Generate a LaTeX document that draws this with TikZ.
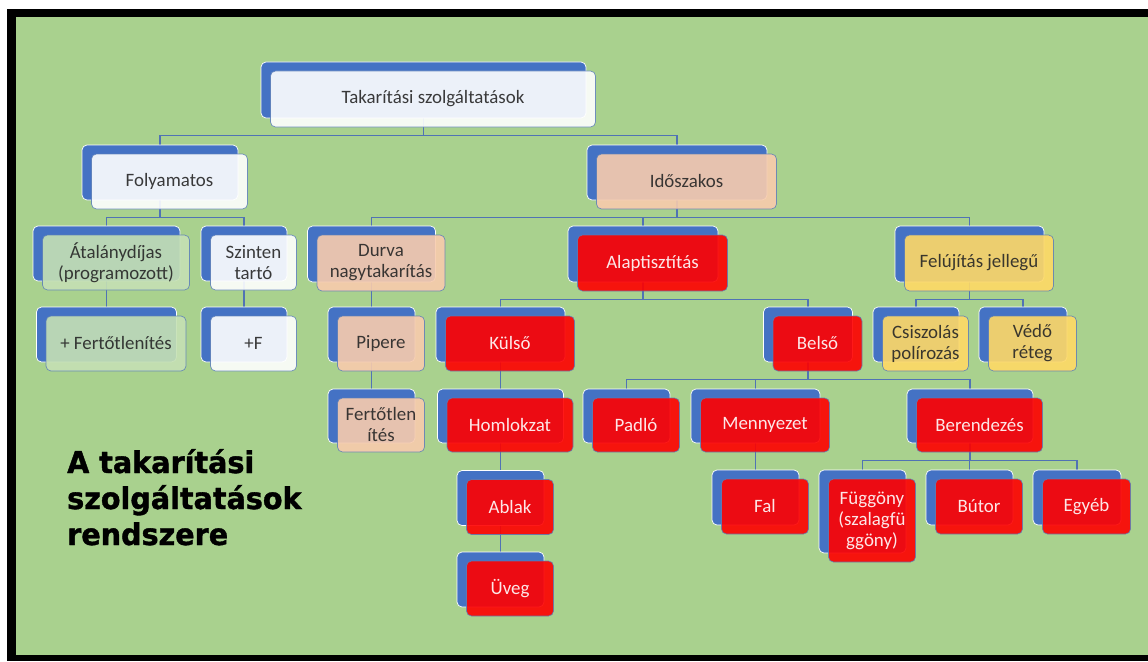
\documentclass[tikz,border=0pt]{standalone}
\usepackage{fontspec}
\setmainfont{Carlito}
\newfontfamily\titlefont{DejaVu Sans Condensed}[BoldFeatures={FakeBold=1.2}]

\definecolor{leaf}{RGB}{169,209,142}
\definecolor{cardblue}{RGB}{68,114,196}
\definecolor{edgeblue}{RGB}{91,126,184}
\definecolor{lineblue}{RGB}{80,115,180}
\definecolor{ink}{RGB}{38,38,38}
\definecolor{mint}{RGB}{197,224,180}
\definecolor{peach}{RGB}{248,203,173}
\definecolor{gold}{RGB}{255,217,102}
\definecolor{alarm}{RGB}{255,0,0}

\pgfdeclarelayer{ground}
\pgfdeclarelayer{lines}
\pgfsetlayers{ground,lines,main}

% #1 name, #2 #3 centre of the back plate, #4 width, #5 height,
% #6 front fill, #7 text colour, #8 text
\newcommand\card[8]{%
  \node[backbox, minimum width=#4pt, minimum height=#5pt] (#1) at (#2,#3) {};
  \node[frontbox, fill=#6, text=#7, minimum width=#4pt, minimum height=#5pt]
    (#1f) at ([xshift=9.5pt,yshift=-9pt]#1.center) {#8};
}
% elbow connector from a parent plate down to a child plate
\newcommand\link[2]{%
  \begin{pgfonlayer}{lines}
    \draw[conn] (#1.south) -- ++(0,17.5) -| (#2.north);
  \end{pgfonlayer}
}

\begin{document}
\begin{tikzpicture}[x=1pt,y=-1pt,
  backbox/.style={draw=white, line width=0.7pt, fill=cardblue,
    rounded corners=5pt, inner sep=0pt},
  frontbox/.style={draw=edgeblue, line width=0.7pt, fill opacity=0.9,
    draw opacity=0.85, rounded corners=5pt, inner sep=0pt, align=center,
    font=\fontsize{18.9}{21}\selectfont},
  conn/.style={draw=lineblue, line width=1.2pt},
]
\useasboundingbox (0,0) rectangle (1148,661);
\begin{pgfonlayer}{ground}
  \fill[white] (0,0) rectangle (1148,661);
  \fill[black] (7,9) rectangle (1148,661);
  \fill[leaf] (16,17) rectangle (1148,655);
\end{pgfonlayer}

% level 0
\card{root}{423.5}{90}{325}{56}{white}{ink}{Takarítási szolgáltatások}
% level 1
\card{fol}{160}{172.5}{156}{55}{white}{ink}{Folyamatos}
\card{ido}{677}{172.5}{180}{55}{peach}{ink}{Időszakos}
% level 2
\card{ata}{106.5}{253.5}{147}{55}{mint}{ink}{Átalánydíjas\\(programozott)}
\card{szi}{244}{253.5}{86}{55}{white}{ink}{Szinten\\tartó}
\card{durva}{371.5}{254}{128}{56}{peach}{ink}{Durva\\nagytakarítás}
\card{alap}{643}{254}{150}{56}{alarm}{white}{Alaptisztítás}
\card{feluj}{969.5}{254}{149}{56}{gold}{ink}{Felújítás jellegű}
% level 3
\card{fert}{106.5}{334.5}{140}{55}{mint}{ink}{+ Fertőtlenítés}
\card{plusf}{244}{334.5}{86}{55}{white}{ink}{+F}
\card{pip}{371.5}{334.5}{87}{55}{peach}{ink}{Pipere}
\card{kulso}{500.5}{334.5}{129}{55}{alarm}{white}{Külső}
\card{belso}{808}{334.5}{89}{55}{alarm}{white}{Belső}
\card{csisz}{916}{334.5}{86}{55}{gold}{ink}{Csiszolás\\polírozás}
\card{vedo}{1023}{334.5}{88}{55}{gold}{ink}{Védő\\réteg}
% level 4
\card{fertl}{371.5}{416}{87}{54}{peach}{ink}{Fertőtlen\\ítés}
\card{homl}{500.5}{416}{126}{54}{alarm}{white}{Homlokzat}
\card{padlo}{626.5}{416}{87}{54}{alarm}{white}{Padló}
\card{menny}{755.5}{416}{129}{54}{alarm}{white}{Mennyezet}
\card{beren}{970}{416}{126}{54}{alarm}{white}{Berendezés}
% level 5
\card{ablak}{500.5}{498}{87}{55}{alarm}{white}{Ablak}
\card{fal}{755.5}{497.5}{87}{55}{alarm}{white}{Fal}
\card{fugg}{862.5}{511.5}{87}{83}{alarm}{white}{Függöny\\(szalagfü\\ggöny)}
\card{butor}{969.5}{497.5}{87}{55}{alarm}{white}{Bútor}
\card{egyeb}{1077}{497.5}{88}{55}{alarm}{white}{Egyéb}
% level 6
\card{uveg}{500.5}{579.5}{87}{55}{alarm}{white}{Üveg}

\link{root}{fol}
\link{root}{ido}
\link{fol}{ata}
\link{fol}{szi}
\link{ata}{fert}
\link{szi}{plusf}
\link{ido}{durva}
\link{ido}{alap}
\link{ido}{feluj}
\link{durva}{pip}
\link{pip}{fertl}
\link{alap}{kulso}
\link{alap}{belso}
\link{kulso}{homl}
\link{homl}{ablak}
\link{ablak}{uveg}
\link{belso}{padlo}
\link{belso}{menny}
\link{belso}{beren}
\link{menny}{fal}
\link{beren}{fugg}
\link{beren}{butor}
\link{beren}{egyeb}
\link{feluj}{csisz}
\link{feluj}{vedo}

% the last line's baseline is the node's base
\node[anchor=base west, align=left, inner sep=0pt, xscale=1.06,
  font=\titlefont\bfseries\fontsize{30}{36}\selectfont] (title) at (67,545)
  {A takarítási\\szolgáltatások\\rendszere};
\end{tikzpicture}
\end{document}
